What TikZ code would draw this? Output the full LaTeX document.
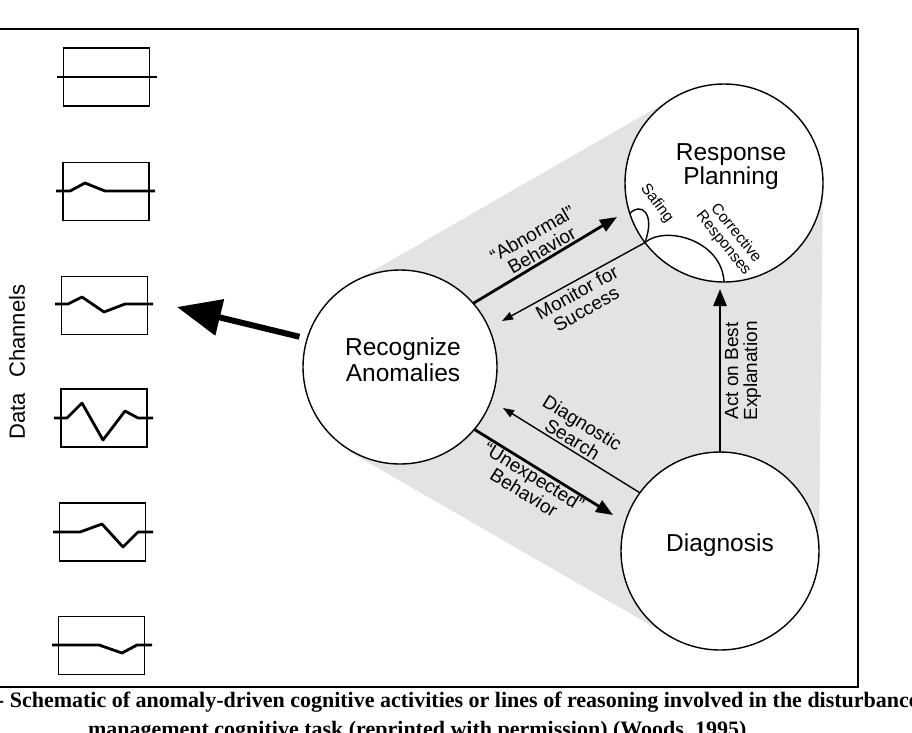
\documentclass[tikz,border=0pt]{standalone}
\usepackage{fontspec}
\setmainfont{Liberation Sans}
\newfontfamily\capfont{Liberation Serif}
\usetikzlibrary{arrows.meta,calc}
\begin{document}
\begin{tikzpicture}[x=1pt,y=-1pt,
  every node/.style={inner sep=0pt, outer sep=0pt},
  proc/.style={circle, draw=black, line width=1.4pt, fill=white, inner sep=0pt},
  proctext/.style={align=center, font=\fontsize{24.5}{25.7}\selectfont},
  lbl/.style={align=center, font=\fontsize{19}{19}\selectfont},
  smalllbl/.style={align=center, font=\fontsize{15.5}{16}\selectfont},
  chan/.style={draw=black, line width=1.6pt, minimum width=86pt, minimum height=58pt},
  wave/.style={line width=2.8pt, line join=round},
  arcline/.style={line width=1.4pt},
  thickarr/.style={line width=2.8pt, -{Triangle[length=17pt,width=13pt]}},
  thinarr/.style={line width=1.4pt, -{Triangle[length=11pt,width=8pt]}},
  bigarr/.style={line width=6pt, -{Triangle[length=44pt,width=36pt]}},
  capstyle/.style={font=\capfont\bfseries\fontsize{22}{22}\selectfont, anchor=base west},
]
\useasboundingbox (0,0) rectangle (912,732);
\clip (0,0) rectangle (912,732);
\fill[white] (0,0) rectangle (912,732);

% frame
\draw[line width=1.6pt] (-10,29) rectangle (858,687);

% gray hull
\fill[black!11] (350,284) -- (675,97) -- (823,183) -- (819,551) -- (671,637) -- (350,452) -- cycle;

% circles
\node[proc, minimum size=194pt] (ra) at (400,367) {};
\node[proc, minimum size=198pt] (rp) at (724,183) {};
\node[proc, minimum size=198pt] (dg) at (720,551) {};

\node[proctext] (ratext) at (403,360) {Recognize\\Anomalies};
\node[proctext, font=\fontsize{24.5}{22.3}\selectfont] (rptext) at (731,167) {Response\\Planning};
\node[proctext] (dgtext) at (720,545) {Diagnosis};

% safing / corrective arcs
\draw[arcline] (rp.198) .. controls (640,202) and (656,212) .. (rp.217);
\draw[arcline] (rp.217) .. controls (665,225) and (722,240) .. (rp.south);

% coordinates
\coordinate (abTip) at (617,217);
\coordinate (monTip) at (502,321);
\coordinate (dsTip) at (503,408);
\coordinate (uxTip) at (613,515);
\coordinate (actTip) at (720,289);
\coordinate (bigTip) at (177,307);

% connectors
\draw[thickarr] (ra.41) -- (abTip);
\draw[thinarr] (rp.217) -- (monTip);
\draw[thinarr] (dg.144) -- (dsTip);
\draw[thickarr] (ra.-40) -- (uxTip);
\draw[thickarr] (dg.north) -- (actTip);
\draw[bigarr, shorten <=8pt] (ra.163) -- (bigTip);

% labels
\node[lbl, rotate=30] (lab1) at (537,242) {“Abnormal”\\Behavior};
\node[lbl, rotate=29] (lab2) at (581.5,300.5) {Monitor for\\Success};
\node[lbl, rotate=-31.5] (lab3) at (577.5,431) {Diagnostic\\Search};
\node[lbl, rotate=-31.5] (lab4) at (529,484.5) {“Unexpected”\\Behavior};
\node[lbl, rotate=90] (lab5) at (743,371) {Act on Best\\Explanation};
\node[smalllbl, rotate=-53] (lab6) at (656.7,203.3) {Safing};
\node[smalllbl, rotate=-51] (lab7) at (729.5,238.3) {Corrective\\Responses};

% data channels
\node[font=\fontsize{22}{22}\selectfont, rotate=90] (dc) at (17,362) {Data\hspace{9pt} Channels};
\node[chan] (ch1) at (106.5,77) {};
\node[chan] (ch2) at (106,191.5) {};
\node[chan] (ch3) at (104.5,305.5) {};
\node[chan] (ch4) at (104,418) {};
\node[chan] (ch5) at (102.5,532) {};
\node[chan] (ch6) at (101.5,645.5) {};

\draw[wave] (57,77) -- (157,77);
\draw[wave] (56,191) -- (70,191) -- (85,183) -- (105,191) -- (155,191);
\draw[wave] (55,304) -- (68,304) -- (82,297) -- (104,312) -- (125,304) -- (153,304);
\draw[wave] (54,418) -- (67,418) -- (82,403) -- (103,440) -- (125,411) -- (138,418) -- (153,418);
\draw[wave] (53,532) -- (80,532) -- (102,524) -- (123,547) -- (138,532) -- (153,532);
\draw[wave] (52,645) -- (99,645) -- (122,653) -- (137,645) -- (152,645);

% caption
\node[capstyle] (cap1) at (-3,707) {- Schematic of anomaly-driven cognitive activities or lines of reasoning involved in the disturbance};
\node[capstyle] (cap2) at (88,736) {management cognitive task (reprinted with permission) (Woods, 1995)};
\end{tikzpicture}
\end{document}
